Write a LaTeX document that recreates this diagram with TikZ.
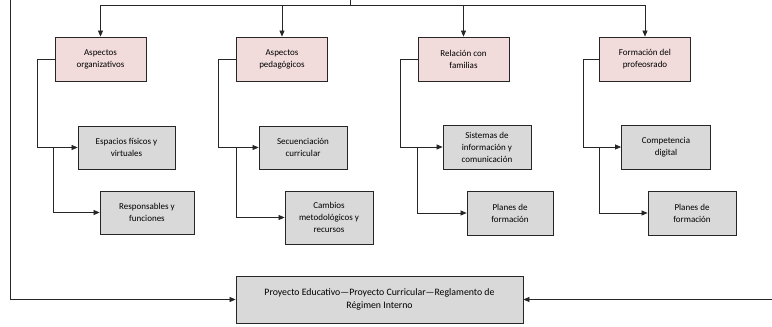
\documentclass[tikz,border=0pt]{standalone}
\usepackage{fontspec}
\setmainfont{Carlito}
\usepackage{tikz}
\usetikzlibrary{arrows.meta,positioning}
\definecolor{pinkbox}{HTML}{F2DCDB}
\definecolor{greybox}{HTML}{D9D9D9}

\begin{document}
\begin{tikzpicture}[x=1pt, y=-1pt,
  box/.style={draw=black!85, line width=0.8pt, align=center, inner sep=1pt,
              font=\fontsize{9}{12}\selectfont},
  area/.style={box, fill=pinkbox, minimum width=91pt, minimum height=44pt},
  item/.style={box, fill=greybox, minimum height=43pt},
  arrow/.style={-{Triangle[length=6pt,width=5pt]}, line width=0.7pt, black!85},
  link/.style={line width=0.7pt, black!85}
]
\useasboundingbox (0,0) rectangle (772,327);

\node[area] (org)  at (100.5,59) {Aspectos\\organizativos};
\node[area] (ped)  at (282,59)   {Aspectos\\pedagógicos};
\node[area] (fam)  at (463.5,59) {Relación con\\familias};
\node[area] (prof) at (645,59)   {Formación del\\profeosrado};

\node[item, minimum width=97pt] (esp)   at (126.5,147.5) {Espacios físicos y\\virtuales};
\node[item, minimum width=94pt] (resp)  at (147,212.5)   {Responsables y\\funciones};
\node[item, minimum width=88pt] (sec)   at (303,147.5)   {Secuenciación\\curricular};
\node[item, minimum width=88pt, minimum height=53pt] (camb) at (329,217.5) {Cambios\\metodológicos y\\recursos};
\node[item, minimum width=88pt, minimum height=44pt] (sis)   at (487,147)  {Sistemas de\\información y\\comunicación};
\node[item, minimum width=86pt, minimum height=44pt] (plan1) at (510,213)  {Planes de\\formación};
\node[item, minimum width=89pt, minimum height=44pt] (comp)  at (666,147)  {Competencia\\digital};
\node[item, minimum width=88pt, minimum height=44pt] (plan2) at (692,213)  {Planes de\\formación};

\node[item, minimum width=287pt, minimum height=47pt, font=\fontsize{9.8}{12.5}\selectfont] (pe) at (379.5,299.5)
  {Proyecto Educativo---Proyecto Curricular---Reglamento de\\Régimen Interno};

% top bus
\coordinate (top) at (350,0);
\coordinate (bus) at (350,5);
\draw[link] (top) -- (bus);
\foreach \n in {org,ped,fam,prof}
  \draw[arrow] (bus) -| (\n.north);

% branches
\draw[arrow] (org.west) -- ++(-17,0) |- (esp.west);
\draw[arrow] ([xshift=-1pt]org.west |- esp.west) |- (resp.west);
\draw[arrow] (ped.west) -- ++(-18,0) |- (sec.west);
\draw[arrow] (ped.west |- sec.west) |- (camb.west);
\draw[arrow] (fam.west) -- ++(-17,0) |- (sis.west);
\draw[arrow] (fam.west |- sis.west) |- (plan1.west);
\draw[arrow] (prof.west) -- ++(-16,0) |- (comp.west);
\draw[arrow] (prof.west |- comp.west) |- (plan2.west);

% side feeds
\coordinate (lft) at (10,0);
\coordinate (rgt) at (772,299.5);
\draw[arrow] (lft) |- (pe.west);
\draw[arrow] (rgt) -- (pe.east);
\end{tikzpicture}
\end{document}
